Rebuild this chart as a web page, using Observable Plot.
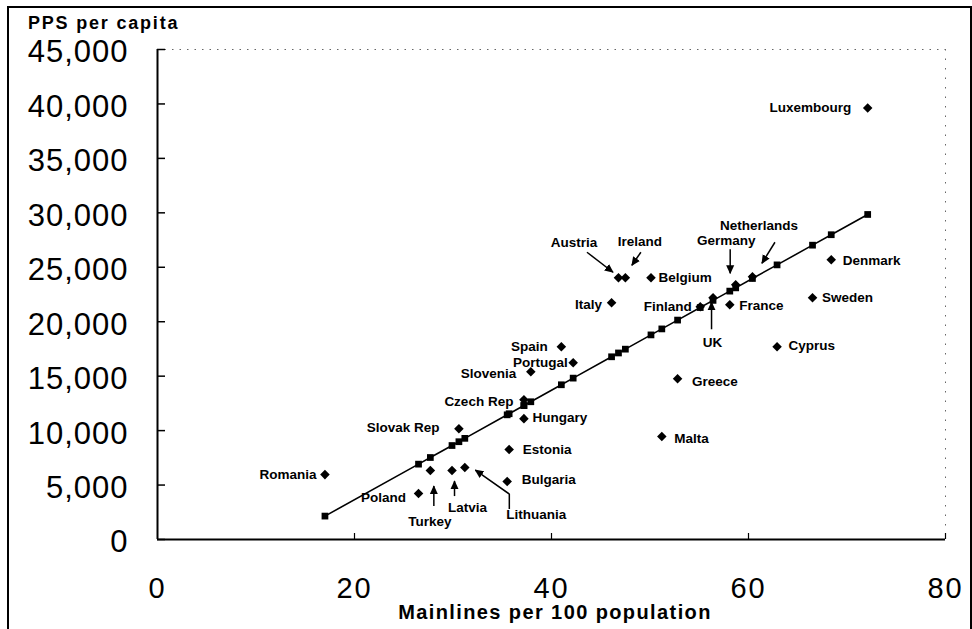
<!DOCTYPE html>
<html>
<head>
<meta charset="utf-8">
<script src="https://cdn.jsdelivr.net/npm/d3@7"></script>
<script src="https://cdn.jsdelivr.net/npm/@observablehq/plot@0.6"></script>
<style>
  body { margin: 0; background: #fff; }
  #wrap { position: relative; width: 972px; height: 629px; overflow: hidden; }
  #frame { position: absolute; left: 7px; top: 6px; width: 961px; height: 640px; border: 2px solid #000; border-bottom: none; pointer-events: none; }
</style>
</head>
<body>
<div id="wrap"><div id="frame"></div></div>
<script>
// ---------- data ----------
const countries = ["Luxembourg","Denmark","Sweden","Cyprus","France","Netherlands","Germany","UK","Finland",
  "Belgium","Ireland","Austria","Italy","Greece","Malta","Spain","Portugal","Slovenia","Czech Rep","Hungary",
  "Slovak Rep","Estonia","Lithuania","Latvia","Turkey","Bulgaria","Poland","Romania"];
const mainlines = [72.1, 68.4, 66.5, 62.9, 58.1, 60.4, 58.7, 56.4, 55.1,
  50.1, 47.5, 46.8, 46.1, 52.8, 51.2, 41.0, 42.2, 37.9, 37.2, 37.2,
  30.6, 35.7, 31.2, 29.9, 27.7, 35.5, 26.5, 17.0];
const ppsPerCapita = [39630, 25690, 22200, 17700, 21560, 24130, 23390, 22200, 21380,
  24040, 24040, 24040, 21740, 14770, 9450, 17700, 16240, 15410, 12840, 11100,
  10180, 8260, 6610, 6330, 6330, 5320, 4220, 5960];
// values of the fitted (trend) line read at each country's square marker
const fittedPps = [29850, 27990, 27030, 25220, 22810, 23970, 23110, 21960, 21300,
  18790, 17480, 17130, 16780, 20150, 19340, 14210, 14820, 12650, 12300, 12300,
  8980, 11550, 9290, 8630, 7530, 11450, 6920, 2150];
const xTicks = [0, 20, 40, 60, 80];
const yTicks = [0, 5000, 10000, 15000, 20000, 25000, 30000, 35000, 40000, 45000];
const yTitle = "PPS per capita";
const xTitle = "Mainlines per 100 population";

// ---------- label placement (pixels relative to each point) ----------
const labelLayout = {
  "Luxembourg": ["end", -16, 0], "Denmark": ["start", 12, 1], "Sweden": ["start", 10, 0],
  "Cyprus": ["start", 12, -1], "France": ["start", 10, 1], "Finland": ["end", -8, 0],
  "Belgium": ["start", 8, 0], "Italy": ["end", -9, 2], "Spain": ["end", -13, 0],
  "Portugal": ["end", -5, 0], "Slovenia": ["end", -14, 2], "Czech Rep": ["end", -10, 2],
  "Greece": ["start", 15, 3], "Hungary": ["start", 9, -1], "Slovak Rep": ["end", -19, -1],
  "Estonia": ["start", 14, 0], "Malta": ["start", 13, 2], "Romania": ["end", -8, 0],
  "Poland": ["end", -12, 4], "Bulgaria": ["start", 15, -2],
  "Austria": ["middle", -44, -35], "Ireland": ["middle", 15, -36], "Germany": ["middle", -9, -44],
  "Netherlands": ["middle", 7, -51], "UK": ["middle", 0, 45], "Turkey": ["middle", 0, 51],
  "Latvia": ["middle", 16, 37], "Lithuania": ["middle", 72, 47]
};
const arrowLayout = {
  "Austria": [[-31, -25], [-5, -5]],
  "Ireland": [[16, -25], [7, -12]],
  "Germany": [[-5, -35], [-5, -11]],
  "Netherlands": [[23, -34], [10, -13]],
  "UK": [[-1, 32], [-1, 5]],
  "Turkey": [[4, 36], [4, 16]],
  "Latvia": [[3, 26], [3, 11]],
  "Lithuania": [[45, 42], [45, 27], [11, 3]]
};

const FONT = "'Liberation Sans', Arial, Helvetica, sans-serif";
const data = countries.map((c, i) => ({country: c, x: mainlines[i], y: ppsPerCapita[i], fit: fittedPps[i]}));
const trend = data.slice().sort((a, b) => a.x - b.x);

const chart = Plot.plot({
  width: 972,
  height: 629,
  marginLeft: 157,
  marginRight: 27,
  marginTop: 49,
  marginBottom: 90,
  style: {fontFamily: FONT, background: "transparent", color: "#000", overflow: "visible"},
  x: {domain: [0, 80]},
  y: {domain: [0, 45000]},
  marks: [
    Plot.ruleY([45000], {stroke: "#666", strokeDasharray: "1.5,6"}),
    Plot.ruleX([80], {stroke: "#666", strokeDasharray: "1.5,8"}),
    Plot.axisY({ticks: yTicks, tickSize: 8, dx: 8, text: null, strokeWidth: 1.5, label: null}),
    Plot.axisY({ticks: yTicks, tickSize: 0, tickPadding: 29, dy: 3, fontSize: 31, tickFormat: d3.format(","), label: null}),
    Plot.axisX({ticks: [20, 40, 60, 80], tickSize: 6, dy: -6, text: null, strokeWidth: 1.2, label: null}),
    Plot.axisX({ticks: xTicks, tickSize: 0, tickPadding: 38, fontSize: 29, tickFormat: d => String(d), label: null}),
    Plot.ruleX([0], {strokeWidth: 2}),
    Plot.ruleY([0], {strokeWidth: 2}),
    Plot.line(trend, {x: "x", y: "fit", stroke: "#000", strokeWidth: 1.6}),
    Plot.dot(trend, {x: "x", y: "fit", symbol: "square", r: 3.8, fill: "#000", stroke: "none"}),
    Plot.dot(data, {x: "x", y: "y", symbol: "diamond2", r: 4.3, fill: "#000", stroke: "none"})
  ]
});

document.getElementById("wrap").insertBefore(chart, document.getElementById("frame"));

// ---------- annotations (positioned through Plot's scales) ----------
const sx = chart.scale("x"), sy = chart.scale("y");
const svg = d3.select(chart);
svg.selectAll("g[aria-label='y-axis tick label'] text").attr("letter-spacing", 1);
svg.selectAll("g[aria-label='x-axis tick label'] text").attr("letter-spacing", 2);

svg.append("defs").append("marker")
  .attr("id", "ah").attr("viewBox", "0 0 10 10").attr("refX", 9).attr("refY", 5)
  .attr("markerWidth", 9).attr("markerHeight", 9).attr("markerUnits", "userSpaceOnUse")
  .attr("orient", "auto")
  .append("path").attr("d", "M0,0.5L10,5L0,9.5z").attr("fill", "#000");

const g = svg.append("g").attr("font-family", FONT).attr("font-weight", "bold").attr("font-size", 13.5).attr("fill", "#000");
data.forEach(d => {
  const px = sx.apply(d.x), py = sy.apply(d.y);
  const L = labelLayout[d.country];
  g.append("text").attr("x", px + L[1]).attr("y", py + L[2])
    .attr("text-anchor", L[0]).attr("dy", "0.35em").text(d.country);
  const a = arrowLayout[d.country];
  if (a) {
    g.append("path")
      .attr("d", "M" + a.map(p => (px + p[0]) + "," + (py + p[1])).join("L"))
      .attr("fill", "none").attr("stroke", "#000").attr("stroke-width", 1.5)
      .attr("marker-end", "url(#ah)");
  }
});

// titles
const x0 = sx.apply(0), x1 = sx.apply(80), y0 = sy.apply(0), yTop = sy.apply(45000);
svg.append("text").attr("x", 28).attr("y", yTop - 26).attr("dy", "0.35em")
  .attr("text-anchor", "start")
  .attr("font-family", FONT).attr("font-weight", "bold").attr("font-size", 18)
  .attr("letter-spacing", 1.8).text(yTitle);
svg.append("text").attr("x", (x0 + x1) / 2 + 4).attr("y", y0 + 73).attr("dy", "0.35em")
  .attr("text-anchor", "middle")
  .attr("font-family", FONT).attr("font-weight", "bold").attr("font-size", 20)
  .attr("letter-spacing", 1.4).text(xTitle);
</script>
</body>
</html>
